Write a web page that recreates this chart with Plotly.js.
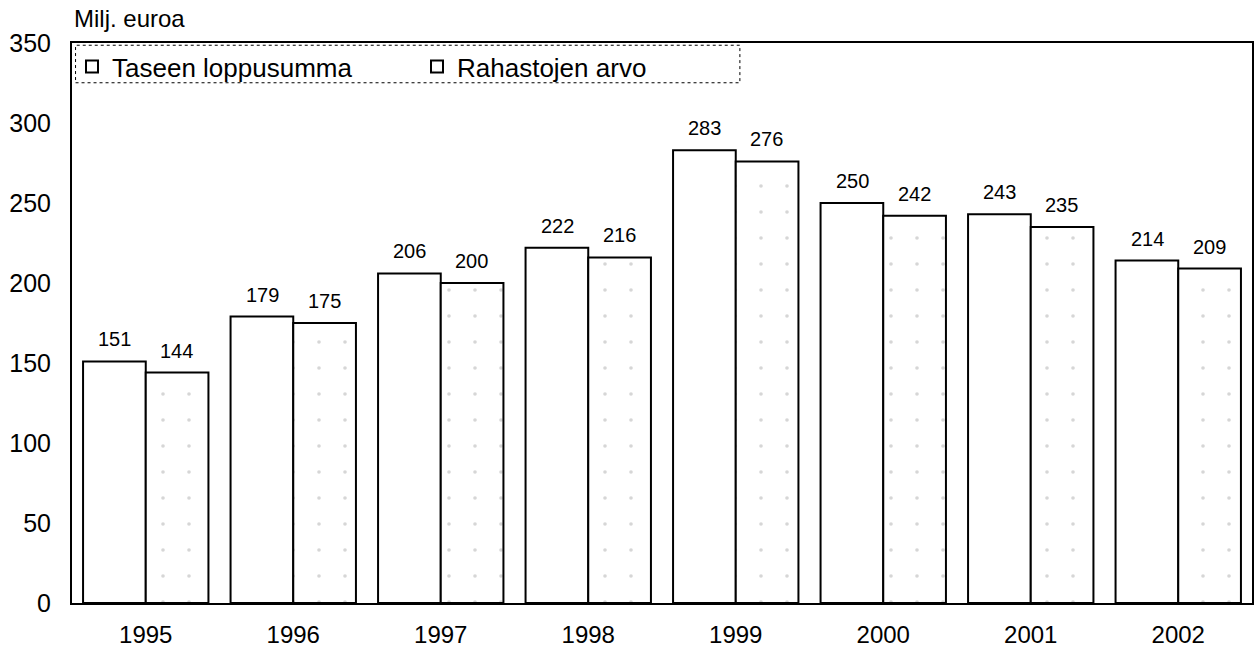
<!DOCTYPE html>
<html>
<head>
<meta charset="utf-8">
<script src="https://cdn.plot.ly/plotly-3.0.1.min.js"></script>
<style>html,body{margin:0;padding:0;background:#fff;}#chart{width:1255px;height:651px;}</style>
</head>
<body>
<div id="chart"></div>
<script>
const years = ['1995','1996','1997','1998','1999','2000','2001','2002'];
const taseenLoppusumma = [151,179,206,222,283,250,243,214];
const rahastojenArvo = [144,175,200,216,276,242,235,209];
const seriesNames = ['Taseen loppusumma','Rahastojen arvo'];
const yTicks = [0,50,100,150,200,250,300,350];

const fam = 'Liberation Sans, Arial, sans-serif';

const traces = [
  {
    type:'bar', name:seriesNames[0], x:years, y:taseenLoppusumma,
    marker:{color:'#fff', line:{color:'#000', width:2}}
  },
  {
    type:'bar', name:seriesNames[1], x:years, y:rahastojenArvo,
    marker:{color:'#fff', line:{color:'#000', width:2},
      pattern:{shape:'.', fgcolor:'#d6d6d6', bgcolor:'#fff', size:26, solidity:0.015}}
  }
];

// value labels built from the data arrays, placed above each bar in its group slot
// (x given as the category index of each year)
const barShift = 31;
const labelAnns = [];
[taseenLoppusumma, rahastojenArvo].forEach((vals, si) => {
  vals.forEach((v, i) => {
    labelAnns.push({x:i, y:v, xref:'x', yref:'y', text:String(v), showarrow:false,
      xanchor:'center', yanchor:'bottom', xshift:(si===0?-barShift:barShift), yshift:9,
      font:{family:fam, size:20, color:'#000'}});
  });
});

const layout = {
  width:1255, height:651,
  margin:{l:72, r:3, t:43, b:48},
  paper_bgcolor:'#fff', plot_bgcolor:'#fff',
  font:{family:fam, size:24, color:'#000'},
  barmode:'group', bargap:0.15, bargroupgap:0,
  showlegend:true,
  legend:{orientation:'h', x:0.0, y:1.0, xanchor:'left', yanchor:'top',
    bgcolor:'rgba(0,0,0,0)', borderwidth:0, font:{size:26, family:fam, color:'#000'},
    itemwidth:30, entrywidth:300, entrywidthmode:'pixels'},
  xaxis:{type:'category', showgrid:false, ticks:'', tickfont:{size:24}, ticklabelstandoff:9,
    range:[-0.5, years.length-0.5], autorange:false,
    showline:true, linecolor:'#000', linewidth:2, mirror:true, zeroline:false},
  yaxis:{range:[0,350], autorange:false, tickvals:yTicks, ticktext:yTicks.map(String), showgrid:false,
    ticks:'', tickfont:{size:25}, ticklabelstandoff:14,
    showline:true, linecolor:'#000', linewidth:2, mirror:true, zeroline:false},
  annotations:[{text:'Milj. euroa', xref:'paper', yref:'paper', x:0, y:1, yshift:9,
    xanchor:'left', yanchor:'bottom', showarrow:false, font:{size:24, family:fam}}].concat(labelAnns),
  shapes:[{type:'rect', xref:'paper', yref:'paper', x0:0.003, x1:0.566, y0:0.929, y1:0.996,
    line:{color:'#000', width:1, dash:'dot'}}]
};

Plotly.newPlot('chart', traces, layout, {staticPlot:true, displayModeBar:false});
</script>
</body>
</html>
